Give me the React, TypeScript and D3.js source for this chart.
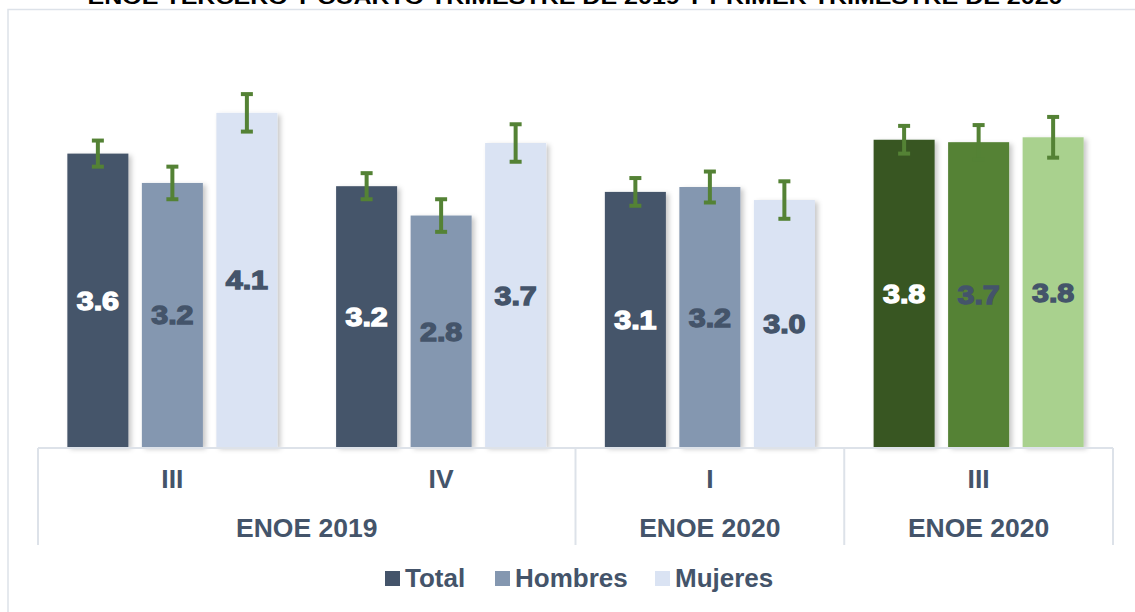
import React from 'react'
import * as d3 from 'd3'

// datos
const trimestres = ['III', 'IV', 'I', 'III']
const encuestas = ['ENOE 2019', 'ENOE 2020', 'ENOE 2020']
const tramos = [2, 1, 1]
const series = ['Total', 'Hombres', 'Mujeres']
const total = [3.6, 3.2, 3.13, 3.77]
const hombres = [3.24, 2.84, 3.19, 3.74]
const mujeres = [4.1, 3.73, 3.03, 3.8]
const errTotal = [0.16, 0.16, 0.17, 0.17]
const errHombres = [0.2, 0.2, 0.19, 0.21]
const errMujeres = [0.23, 0.23, 0.23, 0.25]

const titulo = 'ENOE TERCERO Y CUARTO TRIMESTRE DE 2019 Y PRIMER TRIMESTRE DE 2020'

const coloresAzul = ['#44546a', '#8497b0', '#dae3f3']
const coloresVerde = ['#375623', '#548235', '#a9d18e']
const textoAzul = ['#ffffff', '#44546a', '#44546a']
const textoVerde = ['#ffffff', '#44546a', '#44546a']
const gris = '#dde2e9'
const oscuro = '#44546a'
const font = '"Liberation Sans", Arial, sans-serif'

export default function App() {
    const width = 1135
    const height = 612
    const left = 38, right = 1113, base = 447

    const valores = [total, hombres, mujeres]
    const errores = [errTotal, errHombres, errMujeres]

    const x0 = d3.scaleBand<number>()
        .domain(d3.range(trimestres.length))
        .range([left, right])
        .paddingInner(0)
        .paddingOuter(0)

    const x1 = d3.scaleBand<number>()
        .domain(d3.range(series.length))
        .range([0, x0.bandwidth()])
        .paddingInner(0.181)
        .paddingOuter(0.394)

    const y = d3.scaleLinear().domain([0, 5]).range([base, base - 407.5])

    // limites de los tramos de encuesta
    const cortes = [0]
    tramos.forEach(t => cortes.push(cortes[cortes.length - 1] + t))
    const xCorte = (i: number) => i >= trimestres.length ? right : (x0(i) as number)

    const legendItems = [
        { x: 385, label: series[0] },
        { x: 495, label: series[1] },
        { x: 655, label: series[2] },
    ]

    return (
        <svg width={width} height={height}
            style={{ position: 'absolute', left: 0, top: 0, background: '#fff' }}>
            <defs>
                <filter id="sombra" x="-20%" y="-20%" width="150%" height="150%">
                    <feDropShadow dx="3" dy="2" stdDeviation="2.5" floodColor="#000" floodOpacity="0.22" />
                </filter>
            </defs>

            <text x={575} y={4} textAnchor="middle" fontFamily={font} fontWeight="bold"
                fontSize={20} fill="#000" textLength={975} lengthAdjust="spacingAndGlyphs">{titulo}</text>

            <path d={`M8,${height + 5}V9.5H${width + 5}`} fill="none" stroke={gris} strokeWidth={1.5} />

            {/* barras */}
            {trimestres.map((t, g) => (
                <g key={g} transform={`translate(${x0(g)},0)`}>
                    {series.map((s, i) => {
                        const v = valores[i][g]
                        const colores = g === 3 ? coloresVerde : coloresAzul
                        return (
                            <rect key={s} x={x1(i)} y={y(v)} width={x1.bandwidth()} height={base - y(v)}
                                fill={colores[i]} filter="url(#sombra)" />
                        )
                    })}
                    {series.map((s, i) => {
                        const v = valores[i][g]
                        const e = errores[i][g]
                        const cx = (x1(i) as number) + x1.bandwidth() / 2
                        return (
                            <g key={s} stroke="#548235" strokeWidth={4}>
                                <line x1={cx} x2={cx} y1={y(v + e)} y2={y(v - e)} />
                                <line x1={cx - 6} x2={cx + 6} y1={y(v + e)} y2={y(v + e)} />
                                <line x1={cx - 6} x2={cx + 6} y1={y(v - e)} y2={y(v - e)} />
                            </g>
                        )
                    })}
                    {series.map((s, i) => {
                        const v = valores[i][g]
                        const colTexto = g === 3 ? textoVerde : textoAzul
                        const cx = (x1(i) as number) + x1.bandwidth() / 2
                        return (
                            <text key={s} transform={`translate(${cx},${(y(v) + base) / 2 + 9.5}) scale(1.22,1)`}
                                textAnchor="middle" fontFamily={font} fontWeight="bold" fontSize={25}
                                fill={colTexto[i]} stroke={colTexto[i]} strokeWidth={1.3}>
                                {v.toFixed(1)}
                            </text>
                        )
                    })}
                </g>
            ))}

            {/* eje de categorias */}
            <line x1={left} x2={right} y1={base + 1} y2={base + 1} stroke={gris} strokeWidth={2} />
            {cortes.map((c, i) => (
                <line key={i} x1={xCorte(c)} x2={xCorte(c)} y1={base + 1} y2={545} stroke={gris} strokeWidth={2} />
            ))}
            {trimestres.map((t, g) => (
                <text key={g} x={(x0(g) as number) + x0.bandwidth() / 2} y={488} textAnchor="middle"
                    fontFamily={font} fontWeight="bold" fontSize={26.5} fill={oscuro}>{t}</text>
            ))}
            {encuestas.map((e, i) => (
                <text key={i} x={(xCorte(cortes[i]) + xCorte(cortes[i + 1])) / 2} y={537} textAnchor="middle"
                    fontFamily={font} fontWeight="bold" fontSize={26.5} fill={oscuro}>{e}</text>
            ))}

            {/* leyenda */}
            {legendItems.map((l, i) => (
                <g key={l.label}>
                    <rect x={l.x} y={571} width={15} height={15} fill={coloresAzul[i]} />
                    <text x={l.x + 20} y={587} fontFamily={font} fontWeight="bold" fontSize={26}
                        fill={oscuro}>{l.label}</text>
                </g>
            ))}
        </svg>
    )
}
